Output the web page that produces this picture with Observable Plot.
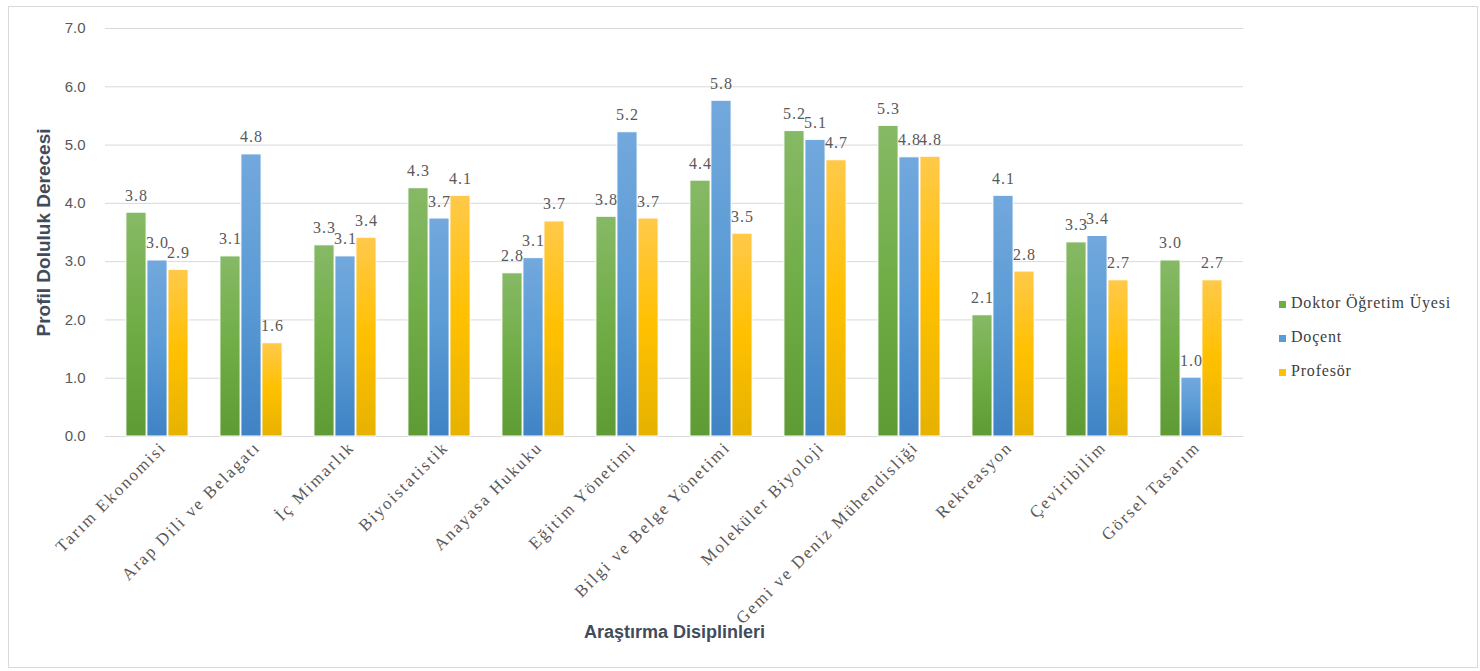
<!DOCTYPE html>
<html><head><meta charset="utf-8">
<script src="https://cdn.jsdelivr.net/npm/d3@7"></script>
<script src="https://cdn.jsdelivr.net/npm/@observablehq/plot@0.6"></script>
<style>
body{margin:0;background:#fff;}
#wrap{position:relative;width:1480px;height:671px;overflow:hidden}
#chart{position:absolute;left:0;top:0}
#frame{position:absolute;left:8px;top:6px;width:1470px;height:662px;border:1px solid #d9d9d9;box-sizing:border-box;pointer-events:none}
#legend{position:absolute;left:1279px;top:286px;font-family:"Liberation Serif","Times New Roman","DejaVu Serif",serif;font-size:16px;color:#404040;letter-spacing:0.8px}
.item{display:flex;align-items:center;height:34px;white-space:nowrap}
.sw{width:7px;height:7px;margin-right:5px;margin-top:2px}
.serif text, text.serif{font-family:"Liberation Serif","Times New Roman","DejaVu Serif",serif}
.barlabel text{letter-spacing:1px}
.xlab text{letter-spacing:2px}
.ytick text{font-family:"Liberation Sans",Arial,sans-serif}
.title text{font-family:"Liberation Sans Narrow","Liberation Sans",Arial,sans-serif;font-weight:bold}
</style></head>
<body><div id="wrap"><div id="frame"></div><div id="chart"></div><div id="legend"></div></div>
<script>
const categories = ["Tarım Ekonomisi","Arap Dili ve Belagatı","İç Mimarlık","Biyoistatistik","Anayasa Hukuku","Eğitim Yönetimi","Bilgi ve Belge Yönetimi","Moleküler Biyoloji","Gemi ve Deniz Mühendisliği","Rekreasyon","Çeviribilim","Görsel Tasarım"];
const series = ["Doktor Öğretim Üyesi","Doçent","Profesör"];
const drOgretimUyesi = [3.84,3.09,3.28,4.26,2.80,3.77,4.39,5.24,5.33,2.08,3.33,3.02];
const docent         = [3.02,4.84,3.09,3.74,3.06,5.22,5.76,5.09,4.79,4.13,3.44,1.01];
const profesor       = [2.86,1.60,3.41,4.13,3.69,3.74,3.48,4.74,4.80,2.83,2.68,2.68];
const yTicks = [0,1,2,3,4,5,6,7];
const baseColors = ["#70ad47","#5b9bd5","#ffc000"];
const gradStops = [["#86b965","#70ad47","#5e9b35"],["#72a8dd","#5b9bd5","#3f83c5"],["#ffc94a","#ffc000","#e6b200"]];

const valueArrays = [drOgretimUyesi, docent, profesor];
const table = [];
series.forEach((s, si) => categories.forEach((c, ci) => table.push({category: c, series: s, si, value: valueArrays[si][ci]})));

const defsMark = () => {
  const defs = d3.create("svg:defs");
  gradStops.forEach((st, i) => {
    const g = defs.append("linearGradient").attr("id", "grad" + i).attr("x1", 0).attr("y1", 0).attr("x2", 0).attr("y2", 1);
    g.append("stop").attr("offset", "0%").attr("stop-color", st[0]);
    g.append("stop").attr("offset", "50%").attr("stop-color", st[1]);
    g.append("stop").attr("offset", "100%").attr("stop-color", st[2]);
  });
  return defs.node();
};

const grey = "#595959";
const step = (1480 - 105 - 237) / categories.length;
const barW = 21;
const inset = (step - barW) / 2;

const marks = [
  defsMark,
  Plot.gridY({ticks: yTicks, stroke: "#d9d9d9", strokeOpacity: 1, strokeWidth: 1}),
  Plot.axisY({ticks: yTicks, tickFormat: d => d.toFixed(1), tickSize: 0, tickPadding: 20, label: null, fontSize: 15, fill: grey, className: "ytick"}),
];
series.forEach((s, si) => {
  const rows = table.filter(d => d.si === si);
  marks.push(Plot.barY(rows, {x: "category", y: "value", dx: (si - 1) * barW, insetLeft: inset, insetRight: inset, fill: `url(#grad${si})`, stroke: "#fff", strokeWidth: 1}));
});
series.forEach((s, si) => {
  const rows = table.filter(d => d.si === si);
  marks.push(Plot.text(rows, {x: "category", y: "value", dx: (si - 1) * barW, text: d => d.value.toFixed(1), dy: -12, lineAnchor: "bottom", fontSize: 16, fill: grey, className: "serif barlabel"}));
});
marks.push(Plot.axisX({tickRotate: -45, tickSize: 0, tickPadding: 8, dx: 6, label: null, fontSize: 17, fill: grey, className: "serif xlab"}));
marks.push(Plot.text(["Araştırma Disiplinleri"], {frameAnchor: "bottom", dy: 201, fontWeight: "bold", fontSize: 18, fill: "#404c5c", className: "title"}));
marks.push(Plot.text(["Profil Doluluk Derecesi"], {frameAnchor: "left", dx: -62, rotate: -90, textAnchor: "middle", fontWeight: "bold", fontSize: 19, fill: "#404c5c", className: "title"}));

const chart = Plot.plot({
  width: 1480,
  height: 671,
  marginLeft: 105,
  marginRight: 237,
  marginTop: 28,
  marginBottom: 235,
  style: {background: "transparent", overflow: "visible"},
  x: {domain: categories, padding: 0, axis: null},
  y: {domain: [0, 7], axis: null},
  marks
});
document.getElementById("chart").appendChild(chart);

const legend = document.getElementById("legend");
series.forEach((s, i) => {
  const it = document.createElement("div");
  it.className = "item";
  it.innerHTML = `<span class="sw" style="background:${baseColors[i]}"></span><span>${s}</span>`;
  legend.appendChild(it);
});
</script>
</body></html>
